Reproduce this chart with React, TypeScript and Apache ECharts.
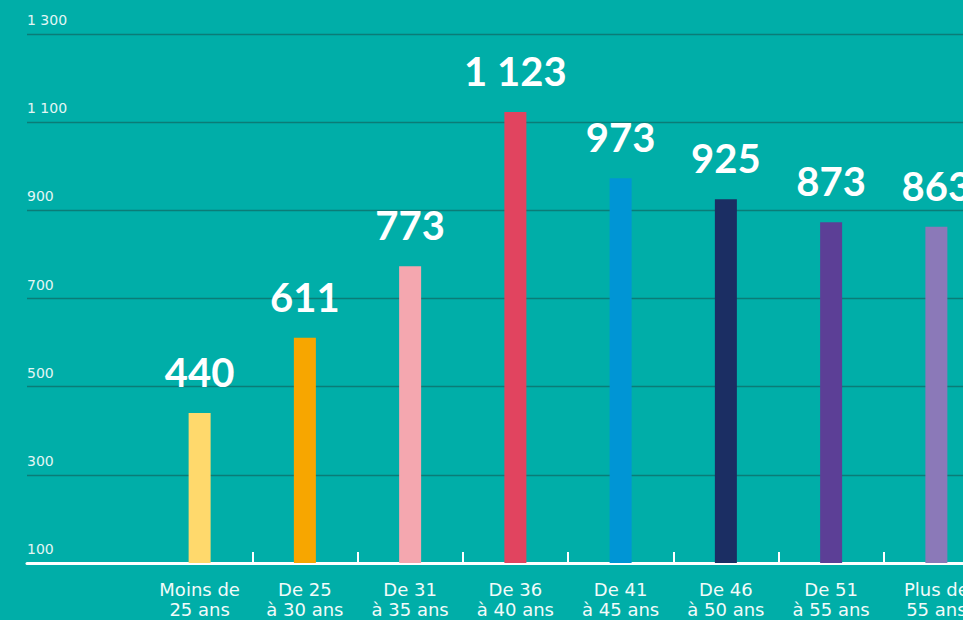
import React, { useEffect, useRef } from "react";
import * as echarts from "echarts";

const categories = [
  "Moins de\n25 ans",
  "De 25\nà 30 ans",
  "De 31\nà 35 ans",
  "De 36\nà 40 ans",
  "De 41\nà 45 ans",
  "De 46\nà 50 ans",
  "De 51\nà 55 ans",
  "Plus de\n55 ans",
];
const values = [440, 611, 773, 1123, 973, 925, 873, 863];
const barColors = ["#FFD96C", "#F7A600", "#F4A7AF", "#E1445F", "#0095D5", "#1B2E63", "#5C3F96", "#8B79B8"];
const yMin = 100;
const yMax = 1300;
const yStep = 200;

const fmt = (v: number) => String(v).replace(/\B(?=(\d{3})+(?!\d))/g, " ");

export default function App() {
  const ref = useRef<HTMLDivElement>(null);
  useEffect(() => {
    if (!ref.current) return;
    const chart = echarts.init(ref.current, null, { renderer: "svg" });
    const font = "'DejaVu Sans', sans-serif";
    const boldFont = "Lato, 'Noto Sans', sans-serif";
    chart.setOption({
      animation: false,
      backgroundColor: "#00AEA8",
      grid: [
        { left: 27, right: 0, top: 34, height: 529, outerBoundsMode: "none", containLabel: false },
        { left: 147, width: 842, top: 34, height: 529, outerBoundsMode: "none", containLabel: false },
      ],
      xAxis: [
        {
          gridIndex: 0,
          type: "value",
          min: 0,
          max: 1,
          axisLine: { show: true, onZero: false, lineStyle: { color: "#FFFFFF", width: 3 } },
          axisTick: { show: false },
          axisLabel: { show: false },
          splitLine: { show: false },
        },
        {
          gridIndex: 1,
          type: "category",
          data: categories,
          boundaryGap: true,
          axisLine: { show: false },
          axisTick: {
            show: true,
            inside: true,
            length: 11,
            interval: (i: number) => i !== 0,
            lineStyle: { color: "#FFFFFF", width: 2 },
          },
          axisLabel: {
            color: "#F2FBFA",
            fontFamily: font,
            fontSize: 18,
            lineHeight: 20,
            margin: 16,
            interval: 0,
          },
        },
      ],
      yAxis: [
        {
          gridIndex: 0,
          type: "value",
          min: yMin,
          max: yMax,
          interval: yStep,
          axisLine: { show: false },
          axisTick: { show: false },
          axisLabel: {
            inside: true,
            margin: 0,
            verticalAlign: "bottom",
            padding: [0, 0, 7, 0],
            color: "#E3F6F5",
            fontFamily: font,
            fontSize: 14,
            formatter: (v: number) => fmt(v),
          },
          splitLine: { show: true, lineStyle: { color: "#0B7C77", width: 1.3 } },
        },
        {
          gridIndex: 1,
          type: "value",
          min: yMin,
          max: yMax,
          interval: yStep,
          show: false,
          splitLine: { show: false },
        },
      ],
      series: [
        {
          type: "bar",
          xAxisIndex: 1,
          yAxisIndex: 1,
          barWidth: 22,
          data: values.map((v, i) => ({ value: v, itemStyle: { color: barColors[i] } })),
          label: {
            show: true,
            position: "top",
            distance: 21,
            color: "#FFFFFF",
            fontFamily: boldFont,
            fontWeight: "bold",
            fontSize: 40,
            formatter: (p: any) => fmt(p.value),
          },
        },
      ],
    });
    return () => chart.dispose();
  }, []);
  return <div ref={ref} style={{ position: "fixed", left: 0, top: 0, width: 963, height: 620 }} />;
}
